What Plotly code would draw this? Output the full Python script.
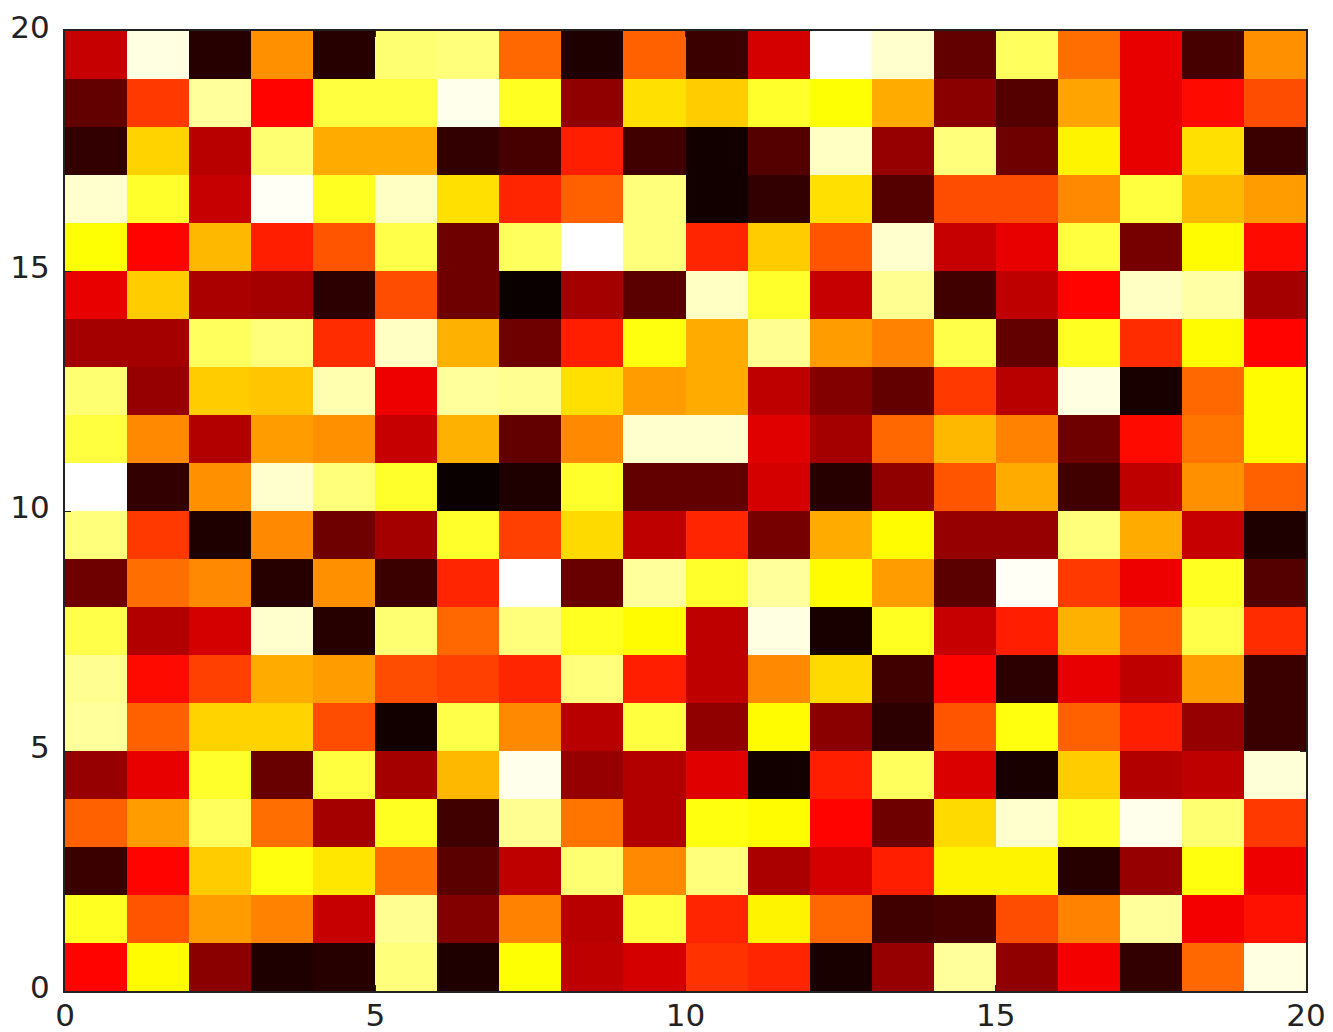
import plotly.graph_objects as go

row_00 = [.37,.74,.19,.03,.04,.87,.03,.75,.27,.30,.44,.42,.02,.21,.90,.20,.35,.06,.52,.97]
row_01 = [.78,.49,.60,.56,.28,.89,.18,.56,.26,.81,.42,.73,.52,.08,.09,.48,.56,.90,.35,.39]
row_02 = [.07,.37,.67,.76,.71,.53,.12,.27,.86,.57,.87,.24,.30,.41,.73,.73,.04,.21,.76,.34]
row_03 = [.51,.60,.84,.53,.23,.78,.08,.89,.54,.25,.76,.74,.37,.15,.69,.95,.79,.98,.86,.45]
row_04 = [.21,.33,.79,.14,.81,.23,.64,.98,.21,.25,.32,.01,.41,.84,.31,.02,.67,.25,.27,.96]
row_05 = [.90,.51,.68,.68,.48,.01,.82,.57,.26,.81,.20,.74,.19,.05,.49,.76,.51,.41,.21,.07]
row_06 = [.89,.38,.46,.62,.60,.48,.46,.42,.87,.41,.27,.57,.69,.08,.37,.05,.33,.27,.60,.07]
row_07 = [.82,.25,.30,.95,.04,.86,.52,.87,.78,.74,.27,.97,.02,.78,.28,.41,.63,.51,.82,.43]
row_08 = [.15,.53,.57,.04,.58,.07,.42,1.0,.14,.90,.79,.90,.74,.60,.12,.99,.45,.34,.78,.11]
row_09 = [.87,.45,.03,.57,.15,.23,.79,.46,.69,.27,.42,.16,.62,.74,.21,.21,.87,.62,.28,.03]
row_10 = [1.0,.06,.58,.95,.87,.79,.00,.03,.79,.13,.13,.30,.04,.20,.49,.62,.08,.27,.58,.51]
row_11 = [.81,.57,.25,.60,.58,.28,.63,.13,.57,.95,.95,.32,.23,.52,.64,.56,.15,.38,.54,.74]
row_12 = [.86,.21,.67,.66,.92,.34,.90,.89,.70,.60,.62,.27,.18,.13,.45,.26,.97,.02,.52,.74]
row_13 = [.23,.23,.84,.87,.43,.94,.63,.15,.41,.76,.62,.89,.60,.56,.82,.13,.78,.43,.74,.37]
row_14 = [.33,.67,.24,.23,.05,.48,.15,.00,.23,.12,.94,.79,.28,.89,.08,.27,.37,.94,.91,.23]
row_15 = [.75,.37,.64,.41,.49,.82,.15,.84,1.0,.87,.42,.67,.49,.95,.28,.33,.81,.16,.74,.38]
row_16 = [.95,.79,.28,.99,.78,.94,.70,.42,.51,.87,.01,.06,.70,.11,.48,.48,.57,.81,.64,.60]
row_17 = [.06,.68,.26,.86,.62,.62,.06,.09,.41,.08,.01,.11,.94,.21,.87,.15,.73,.33,.70,.07]
row_18 = [.13,.45,.90,.37,.81,.81,.98,.78,.20,.70,.67,.79,.75,.62,.19,.11,.61,.33,.38,.48]
row_19 = [.28,.97,.04,.58,.04,.86,.87,.52,.03,.51,.07,.30,1.0,.95,.13,.84,.53,.33,.09,.58]

values = [row_00,row_01,row_02,row_03,row_04,row_05,row_06,row_07,row_08,row_09,
          row_10,row_11,row_12,row_13,row_14,row_15,row_16,row_17,row_18,row_19]
tick_values = [0, 5, 10, 15, 20]
tick_labels = ["0", "5", "10", "15", "20"]

hot = [[0, "#0b0000"], [0.365, "#ff0000"], [0.746, "#ffff00"], [1, "#ffffff"]]

fig = go.Figure(go.Heatmap(z=values, x0=0.5, dx=1, y0=0.5, dy=1, zmin=0, zmax=1,
                           colorscale=hot, showscale=False))
axis = dict(range=[0, 20], tickvals=tick_values, ticktext=tick_labels, ticks="inside",
            ticklen=6, tickwidth=1, tickcolor="#222222", showline=True, linecolor="#222222",
            linewidth=2, mirror="ticks", showgrid=False, zeroline=False, automargin=False,
            tickfont=dict(family="DejaVu Sans", size=31, color="#222222"))
fig.update_layout(width=1325, height=1024, paper_bgcolor="white", plot_bgcolor="white",
                  margin=dict(l=57, r=27, t=23, b=41),
                  xaxis=dict(axis, ticklabelstandoff=-4),
                  yaxis=dict(axis, ticklabelstandoff=7, ticklabelshift=-4))
fig.write_html("out.html")
